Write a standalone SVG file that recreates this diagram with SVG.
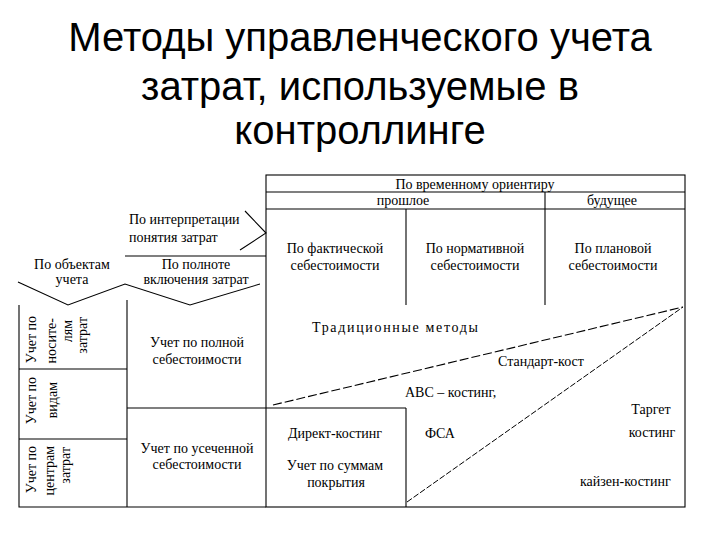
<svg xmlns="http://www.w3.org/2000/svg" width="720" height="540" viewBox="0 0 720 540">
<style>
.t{font-family:"Liberation Serif","Times New Roman",serif;font-size:14px;fill:#000}
.c{text-anchor:middle}
.e{text-anchor:end}
.h{font-family:"Liberation Sans",Arial,sans-serif;font-size:40px;fill:#000;text-anchor:middle}
.ln{stroke:#000;stroke-width:1.1;fill:none}
.d1{stroke:#000;stroke-width:1.1;fill:none;stroke-dasharray:9 3}
.d2{stroke:#000;stroke-width:1;fill:none;stroke-dasharray:6 2}
</style>
<rect width="720" height="540" fill="#fff"/>
<g id="title">
<text class="h" x="360" y="51">Методы управленческого учета</text>
<text class="h" x="360" y="100">затрат, используемые в</text>
<text class="h" x="360" y="144">контроллинге</text>
</g>
<g id="connectors">
<rect class="ln" x="266" y="175" width="419" height="332"/>
<line class="ln" x1="266" y1="192" x2="685" y2="192"/>
<line class="ln" x1="266" y1="209" x2="685" y2="209"/>
<line class="ln" x1="545" y1="192" x2="545" y2="305"/>
<line class="ln" x1="406" y1="209" x2="406" y2="305"/>
<polyline class="ln" points="245,211 266,233 240,250"/>
<line class="ln" x1="125" y1="256" x2="266" y2="256"/>
<polyline class="ln" points="18,282 68,305 125,284 190,305 260,284"/>
<polyline class="ln" points="19,305 19,507 266,507"/>
<line class="ln" x1="127" y1="300" x2="127" y2="507"/>
<line class="ln" x1="19" y1="369" x2="127" y2="369"/>
<line class="ln" x1="19" y1="439" x2="127" y2="439"/>
<line class="ln" x1="127" y1="408" x2="406" y2="408"/>
<line class="ln" x1="406" y1="408" x2="406" y2="507"/>
<line class="d1" x1="273" y1="405" x2="683" y2="307"/>
<line class="d2" x1="407" y1="502" x2="683" y2="307"/>
</g>
<g id="time-orient">
<text class="t c" x="475" y="189">По временному ориентиру</text>
<text class="t c" x="403" y="205">прошлое</text>
<text class="t c" x="612" y="205">будущее</text>
</g>
<g id="fact"><text class="t c" x="335" y="253">По фактической</text><text class="t c" x="335" y="270">себестоимости</text></g>
<g id="norm"><text class="t c" x="475" y="253">По нормативной</text><text class="t c" x="475" y="270">себестоимости</text></g>
<g id="plan"><text class="t c" x="613" y="253">По плановой</text><text class="t c" x="613" y="270">себестоимости</text></g>
<g id="interp"><text class="t" x="129" y="224">По интерпретации</text><text class="t" x="129" y="242">понятия затрат</text></g>
<g id="objects"><text class="t c" x="72" y="269">По объектам</text><text class="t c" x="72" y="284">учета</text></g>
<g id="completeness"><text class="t c" x="196" y="269">По полноте</text><text class="t c" x="196" y="284">включения затрат</text></g>
<g id="carriers">
<text class="t e" transform="translate(36,316) rotate(-90)">Учет по</text>
<text class="t e" transform="translate(56,318) rotate(-90)">носите-</text>
<text class="t e" transform="translate(72,320) rotate(-90)">лям</text>
<text class="t e" transform="translate(87,317) rotate(-90)">затрат</text>
</g>
<g id="types">
<text class="t e" transform="translate(36,377) rotate(-90)">Учет по</text>
<text class="t e" transform="translate(57,382) rotate(-90)">видам</text>
</g>
<g id="centers">
<text class="t e" transform="translate(36,446) rotate(-90)">Учет по</text>
<text class="t e" transform="translate(54,446) rotate(-90)">центрам</text>
<text class="t e" transform="translate(70,447) rotate(-90)">затрат</text>
</g>
<g id="full-cost"><text class="t c" x="197" y="347">Учет по полной</text><text class="t c" x="197" y="364">себестоимости</text></g>
<g id="partial-cost"><text class="t c" x="197" y="453">Учет по усеченной</text><text class="t c" x="197" y="469">себестоимости</text></g>
<g id="traditional"><text class="t" x="312" y="332" textLength="166" lengthAdjust="spacing">Традиционные методы</text></g>
<g id="standard"><text class="t" x="498" y="366">Стандарт-кост</text></g>
<g id="abc"><text class="t" x="405" y="397">АВС – костинг,</text></g>
<g id="fsa"><text class="t" x="425" y="438">ФСА</text></g>
<g id="target"><text class="t c" x="651" y="414">Таргет</text><text class="t c" x="652" y="437">костинг</text></g>
<g id="direct"><text class="t c" x="335" y="438">Директ-костинг</text><text class="t c" x="335" y="470">Учет по суммам</text><text class="t c" x="336" y="487">покрытия</text></g>
<g id="kaizen"><text class="t" x="580" y="486">кайзен-костинг</text></g>
</svg>
